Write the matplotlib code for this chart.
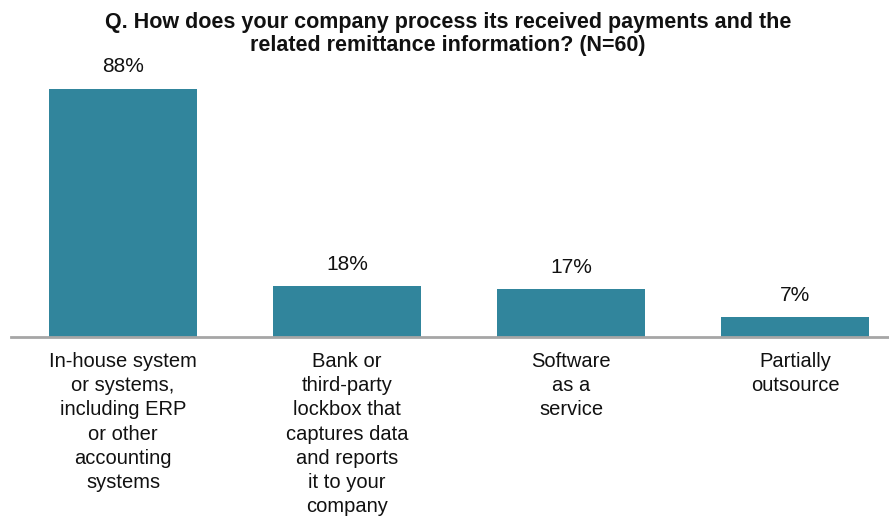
"""Survey bar chart: how companies process received payments and remittance info."""

import matplotlib.pyplot as plt

categories = [
    "In-house system\nor systems,\nincluding ERP\nor other\naccounting\nsystems",
    "Bank or\nthird-party\nlockbox that\ncaptures data\nand reports\nit to your\ncompany",
    "Software\nas a\nservice",
    "Partially\noutsource",
]
shares = [88, 18, 17, 7]

BAR_COLOR = "#31859C"
AXIS_GRAY = "#A6A6A6"

plt.rcParams.update({"font.family": ["Liberation Sans", "DejaVu Sans"]})

W, H = 889, 525
fig = plt.figure(figsize=(W / 100, H / 100), dpi=100)
# axes placed in pixel units: baseline at y=337 from top, left edge at x=11
left, right, base, top = 11, 889, 337, 55
ax = fig.add_axes([left / W, (H - base) / H, (right - left) / W, (base - top) / H])

step = 224.0
ax.set_xlim(-0.5, -0.5 + (right - left) / step)
ax.set_ylim(0, 88 * (base - top) / (base - 89))

x = range(len(categories))
bars = ax.bar(x, shares, width=0.665, color=BAR_COLOR, edgecolor="none")
for rect, v in zip(bars, shares):
    ax.annotate(f"{v}%", (rect.get_x() + rect.get_width() / 2, v),
                xytext=(0, 9), textcoords="offset points",
                ha="center", va="bottom", fontsize=15, color="#111111")

for xi, label in zip(x, categories):
    ax.annotate(label, (xi, 0), xytext=(0, -11), textcoords="offset points",
                ha="center", va="top", fontsize=14.5, color="#111111",
                linespacing=1.34)

ax.axhline(0, color=AXIS_GRAY, linewidth=2, clip_on=False)
for s in ax.spines.values():
    s.set_visible(False)
ax.set_xticks([])
ax.set_yticks([])

fig.text(448 / W, 1 - 34 / H,
         "Q. How does your company process its received payments and the\n"
         "related remittance information? (N=60)",
         ha="center", va="center", fontsize=15.5, fontweight="bold",
         linespacing=1.1, color="#111111")

fig.savefig("out.png", dpi=100)
